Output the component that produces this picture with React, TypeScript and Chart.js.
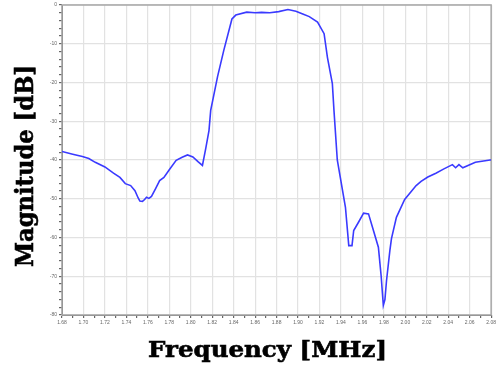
import React, { useEffect, useRef } from "react";
import { Chart, registerables } from "chart.js";

Chart.register(...registerables);

const freqMHz = [
  1.68, 1.69, 1.699, 1.705, 1.711, 1.72, 1.728, 1.734, 1.739, 1.744, 1.748, 1.751,
  1.7526, 1.755, 1.757, 1.7588, 1.761, 1.7634, 1.767, 1.771, 1.775, 1.78, 1.7864,
  1.792, 1.797, 1.802, 1.807, 1.8109, 1.814, 1.817, 1.8186, 1.825, 1.8308, 1.8384,
  1.842, 1.8522, 1.86, 1.866, 1.8737, 1.882, 1.8906, 1.898, 1.905, 1.9105, 1.9182,
  1.9243, 1.9274, 1.932, 1.9335, 1.9366, 1.9442, 1.9473, 1.9503, 1.9519, 1.9565,
  1.9611, 1.9657, 1.9703, 1.9749, 1.9775, 1.9795, 1.981, 1.9825, 1.9856, 1.9871,
  1.9917, 1.9994, 2.0101, 2.0147, 2.021, 2.0285, 2.036, 2.0439, 2.0469, 2.05,
  2.0536, 2.0653, 2.079, 2.08,
];

const magnitudeDb = [
  -37.8, -38.5, -39.1, -39.6, -40.6, -41.8, -43.4, -44.5, -46.1, -46.6, -47.9, -49.8,
  -50.6, -50.7, -50.2, -49.6, -49.9, -49.4, -47.5, -45.3, -44.5, -42.5, -40.1,
  -39.3, -38.7, -39.2, -40.5, -41.4, -37.0, -32.4, -27.2, -18.5, -11.7, -3.6,
  -2.6, -1.85, -2.0, -1.9, -2.0, -1.7, -1.16, -1.6, -2.4, -3.0, -4.4,
  -7.4, -13.5, -20.3, -27.2, -40.0, -52.2, -62.1, -62.1, -58.2, -56.0,
  -53.7, -53.9, -58.2, -62.5, -70.0, -77.5, -76.0, -71.1, -63.4, -60.3,
  -54.8, -50.2, -46.6, -45.5, -44.4, -43.4, -42.3, -41.2, -42.0, -41.2,
  -42.0, -40.6, -40.0, -40.0,
];

const xMin = 1.68;
const xMax = 2.08;
const yMin = -80;
const yMax = 0;
const xTitle = "Frequency [MHz]";
const yTitle = "Magnitude [dB]";

function drawFitted(ctx: CanvasRenderingContext2D, text: string, width: number) {
  const w = ctx.measureText(text).width;
  ctx.save();
  ctx.scale(width / w, 1);
  ctx.fillText(text, 0, 0);
  ctx.strokeText(text, 0, 0);
  ctx.restore();
}

const titlesPlugin = {
  id: "axisTitlesAndFrame",
  beforeDatasetsDraw(chart: any) {
    const { ctx, chartArea } = chart;
    ctx.save();
    ctx.strokeStyle = "#a8a8a8";
    ctx.lineWidth = 1.5;
    ctx.strokeRect(chartArea.left, chartArea.top, chartArea.right - chartArea.left, chartArea.bottom - chartArea.top);
    ctx.restore();
  },
  afterDraw(chart: any) {
    const { ctx } = chart;
    ctx.save();
    ctx.fillStyle = "#000";
    ctx.strokeStyle = "#000";
    ctx.lineWidth = 0.6;
    ctx.textAlign = "left";
    ctx.textBaseline = "alphabetic";
    ctx.font = "bold 23px 'DejaVu Serif'";
    ctx.save();
    ctx.translate(148, 357);
    drawFitted(ctx, xTitle, 239);
    ctx.restore();
    ctx.save();
    ctx.translate(33, 267);
    ctx.rotate(-Math.PI / 2);
    ctx.font = "bold 25px 'DejaVu Serif'";
    drawFitted(ctx, yTitle, 202);
    ctx.restore();
    ctx.restore();
  },
};

export default function App() {
  const ref = useRef<HTMLCanvasElement | null>(null);

  useEffect(() => {
    if (!ref.current) return;
    const points = freqMHz.map((f, i) => ({ x: f, y: magnitudeDb[i] }));
    const chart = new Chart(ref.current, {
      type: "line",
      data: {
        datasets: [
          {
            data: points,
            borderColor: "#3a3aff",
            borderWidth: 1.6,
            pointRadius: 0,
            tension: 0,
            fill: false,
          },
        ],
      },
      options: {
        animation: false,
        responsive: true,
        maintainAspectRatio: false,
        layout: { padding: { top: 4, right: 2, left: 0, bottom: 0 } },
        plugins: { legend: { display: false }, tooltip: { enabled: false } },
        scales: {
          x: {
            type: "linear",
            min: xMin,
            max: xMax,
            afterFit: (s: any) => {
              s.height = 53;
            },
            afterBuildTicks: (s: any) => {
              const t = [];
              for (let i = 0; i <= 40; i++) t.push({ value: xMin + i * 0.01 });
              s.ticks = t;
            },
            ticks: {
              autoSkip: false,
              maxRotation: 0,
              padding: 2,
              color: "#666",
              font: { size: 5, family: "Arial, 'Liberation Sans'" },
              callback: (v: any) => {
                const k = Math.round(Number(v) * 100);
                return k % 2 === 0 ? (k / 100).toFixed(2) : "";
              },
            },
            grid: {
              color: (c: any) => {
                const k = Math.round(Number(c.tick?.value) * 100);
                return k % 2 === 0 ? "#e2e2e2" : "rgba(0,0,0,0)";
              },
              lineWidth: 1.2,
              tickColor: "#666",
              tickLength: 3,
            },
            border: { color: "#666", width: 1 },
          },
          y: {
            type: "linear",
            min: yMin,
            max: yMax,
            afterFit: (s: any) => {
              s.width = 62;
            },
            afterBuildTicks: (s: any) => {
              const t = [];
              for (let v = yMin; v <= yMax; v += 2) t.push({ value: v });
              s.ticks = t;
            },
            ticks: {
              autoSkip: false,
              padding: 2,
              color: "#666",
              font: { size: 5, family: "Arial, 'Liberation Sans'" },
              callback: (v: any) => (Number(v) % 10 === 0 ? String(v) : ""),
            },
            grid: {
              color: (c: any) => (Number(c.tick?.value) % 10 === 0 ? "#e2e2e2" : "rgba(0,0,0,0)"),
              lineWidth: 1.2,
              tickColor: "#666",
              tickLength: 3,
            },
            border: { color: "#666", width: 1 },
          },
        },
      },
      plugins: [titlesPlugin],
    });
    return () => chart.destroy();
  }, []);

  return (
    <div style={{ position: "absolute", left: 0, top: 0, width: 498, height: 368, background: "#fff" }}>
      <canvas ref={ref} />
    </div>
  );
}
